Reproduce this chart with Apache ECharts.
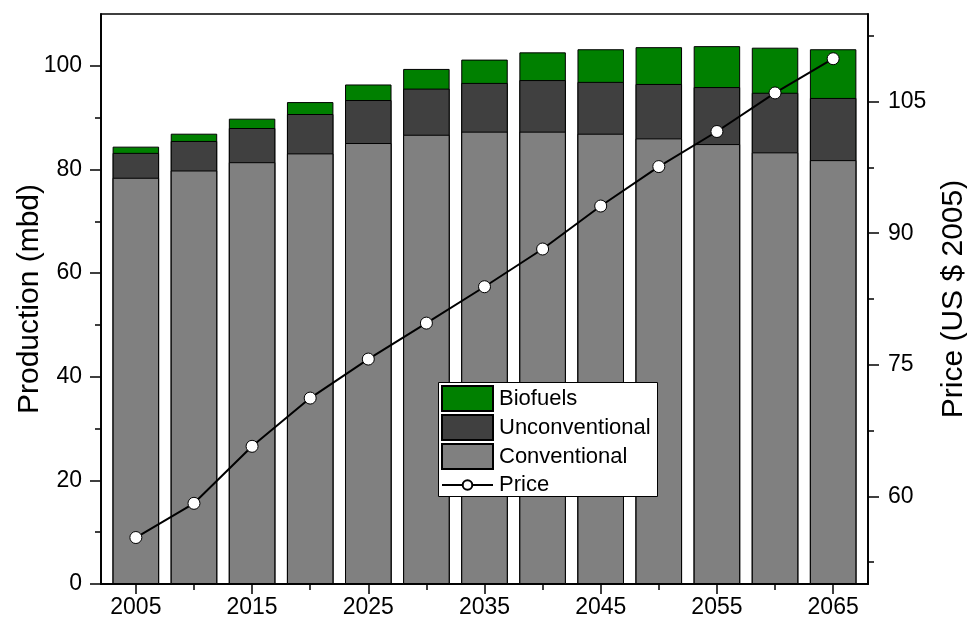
<!DOCTYPE html>
<html><head><meta charset="utf-8">
<script src="https://cdn.jsdelivr.net/npm/echarts@6/dist/echarts.min.js"></script>
<style>html,body{margin:0;padding:0;background:#fff}#c{width:967px;height:626px}</style>
</head><body><div id="c"></div>
<script>
const years = [2005,2010,2015,2020,2025,2030,2035,2040,2045,2050,2055,2060,2065];
const conventional = [78.4,79.8,81.4,83.1,85.1,86.7,87.3,87.3,86.9,86.0,84.9,83.3,81.8];
const unconventional = [4.8,5.7,6.6,7.6,8.3,8.9,9.4,9.95,10.0,10.5,11.0,11.5,12.0];
const biofuels = [1.2,1.4,1.8,2.3,3.0,3.8,4.5,5.35,6.3,7.1,7.9,8.7,9.4];
const price = [55.3,59.2,65.7,71.2,75.65,79.75,83.9,88.2,93.1,97.6,101.6,106.0,109.9];
const xMajorTicks = [2005,2015,2025,2035,2045,2055,2065];
const xMinorTicks = [2010,2020,2030,2040,2050,2060];
const leftMajorTicks = [0,20,40,60,80,100];
const leftMinorTicks = [10,30,50,70,90];
const rightMajorTicks = [60,75,90,105];
const rightMinorTicks = [52.5,67.5,82.5,97.5,112.5];

const FONT = 'Liberation Sans';
// cumulative tops for stacked drawing (drawn back to front)
const topConv = conventional.map(v=>v);
const topUnconv = conventional.map((v,i)=>v+unconventional[i]);
const topBio = topUnconv.map((v,i)=>v+biofuels[i]);
const pair = (arr) => years.map((y,i)=>[y,arr[i]]);
const chart = echarts.init(document.getElementById('c'), null, {renderer:'canvas'});
const axisLine = {show:true, lineStyle:{color:'#000', width:1.5}};
const tickStyle = {color:'#000', width:1.5};
const baseX = {type:'value', min:2002, max:2068, splitLine:{show:false}, axisLine};
const baseL = {type:'value', min:0, max:110, position:'left', splitLine:{show:false}, axisLine};
const baseR = {type:'value', min:50, max:115, position:'right', splitLine:{show:false}, axisLine};
const barCommon = {type:'bar', barWidth:'80%', barGap:'-100%'};
chart.setOption({
  animation:false,
  grid:{left:101, right:99, top:14, bottom:42, outerBoundsMode:'none', containLabel:false,
        show:true, borderColor:'#000', borderWidth:1.5, backgroundColor:'transparent'},
  graphic:[{type:'rect', left:438, top:382, z:3, shape:{width:219, height:114},
            style:{fill:'#fff', stroke:'#000', lineWidth:1}}],
  legend:[{
    orient:'vertical', left:438, top:382, padding:[3,5,3,3], itemGap:2, itemWidth:51, itemHeight:25,
    textStyle:{fontFamily:FONT, fontSize:22, color:'#000', padding:[0,0,0,1]},
    data:[{name:'Biofuels', icon:'rect'},{name:'Unconventional', icon:'rect'},{name:'Conventional', icon:'rect'}]
  },{
    orient:'vertical', left:441, top:474, padding:0, itemWidth:51, itemHeight:12,
    textStyle:{fontFamily:FONT, fontSize:22, color:'#000', padding:[0,0,0,1]},
    data:['Price']
  }],
  xAxis:[
    Object.assign({}, baseX, {
      axisTick:{show:true, length:10, customValues:xMajorTicks, lineStyle:tickStyle},
      axisLabel:{show:true, customValues:xMajorTicks, margin:12, fontFamily:FONT, fontSize:23, color:'#000', formatter:v=>String(v)}
    }),
    Object.assign({}, baseX, {
      position:'bottom',
      axisTick:{show:true, length:6, customValues:xMinorTicks, lineStyle:tickStyle},
      axisLabel:{show:false}
    })
  ],
  yAxis:[
    Object.assign({}, baseL, {
      name:'Production (mbd)', nameLocation:'middle', nameGap:56, nameMoveOverlap:false,
      nameTextStyle:{fontFamily:FONT, fontSize:30, color:'#000'},
      axisTick:{show:true, length:11, customValues:leftMajorTicks, lineStyle:tickStyle},
      axisLabel:{show:true, customValues:leftMajorTicks, margin:19, fontFamily:FONT, fontSize:23, color:'#000'}
    }),
    Object.assign({}, baseR, {
      name:'Price (US $ 2005)', nameLocation:'middle', nameGap:71, nameRotate:90, nameMoveOverlap:false,
      nameTextStyle:{fontFamily:FONT, fontSize:30, color:'#000'},
      axisTick:{show:true, length:11, customValues:rightMajorTicks, lineStyle:tickStyle},
      axisLabel:{show:true, customValues:rightMajorTicks, margin:20, fontFamily:FONT, fontSize:23, color:'#000'}
    }),
    Object.assign({}, baseL, {
      axisTick:{show:true, length:6, customValues:leftMinorTicks, lineStyle:tickStyle},
      axisLabel:{show:false}
    }),
    Object.assign({}, baseR, {
      axisTick:{show:true, length:6, customValues:rightMinorTicks, lineStyle:tickStyle},
      axisLabel:{show:false}
    })
  ],
  series:[
    Object.assign({name:'Biofuels', data:pair(topBio),
     itemStyle:{color:'#008000', borderColor:'#000', borderWidth:1}}, barCommon),
    Object.assign({name:'Unconventional', data:pair(topUnconv),
     itemStyle:{color:'#404040', borderColor:'#000', borderWidth:1}}, barCommon),
    Object.assign({name:'Conventional', data:pair(topConv),
     itemStyle:{color:'#808080', borderColor:'#000', borderWidth:1}}, barCommon),
    {name:'Price', type:'line', yAxisIndex:1, data:pair(price), symbol:'circle', symbolSize:12,
     lineStyle:{color:'#000', width:2}, itemStyle:{color:'#fff', borderColor:'#000', borderWidth:1}, z:5}
  ]
});
</script></body></html>
